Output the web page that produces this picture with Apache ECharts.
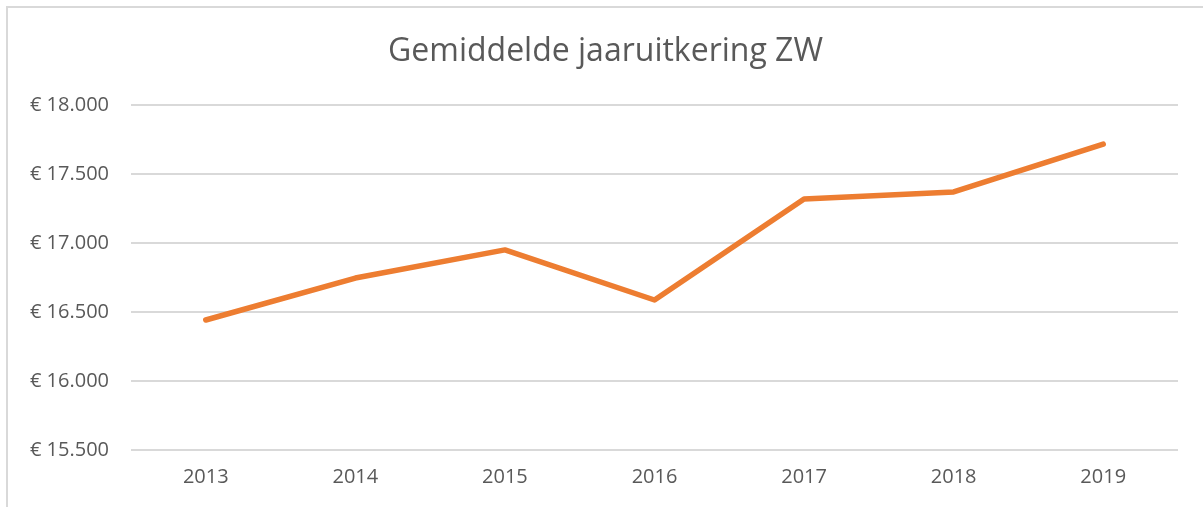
<!DOCTYPE html>
<html>
<head>
<meta charset="utf-8">
<script src="https://cdn.jsdelivr.net/npm/echarts@6/dist/echarts.min.js"></script>
<style>
  html, body { margin: 0; padding: 0; background: #fff; }
  #chart { position: absolute; left: 6px; top: 6px; width: 1197px; height: 501px;
           border-left: 2px solid #d9d9d9; border-top: 2px solid #d9d9d9; box-sizing: border-box; }
</style>
</head>
<body>
<div id="chart"></div>
<script>
var years = ['2013', '2014', '2015', '2016', '2017', '2018', '2019'];
var uitkering = [16442, 16746, 16950, 16587, 17319, 17370, 17717];
var yTicks = [15500, 16000, 16500, 17000, 17500, 18000];

var chart = echarts.init(document.getElementById('chart'));

function euro(v){
    return '€ ' + String(v).replace(/\B(?=(\d{3})+(?!\d))/g, '.');
}

var option = {
    animation: false,
    textStyle: { fontFamily: 'Open Sans' },
    title: {
        text: 'Gemiddelde jaaruitkering ZW',
        left: 'center',
        top: 23,
        textStyle: { fontSize: 32, fontWeight: 'normal', color: '#595959', fontFamily: 'Open Sans' }
    },
    grid: { left: 123, right: 25, top: 97, bottom: 57, containLabel: false },
    xAxis: {
        type: 'category',
        data: years,
        boundaryGap: true,
        axisLine: { show: false },
        axisTick: { show: false },
        axisLabel: { color: '#595959', fontSize: 20, margin: 17 }
    },
    yAxis: {
        type: 'value',
        min: yTicks[0],
        max: yTicks[yTicks.length - 1],
        interval: 500,
        axisLine: { show: false },
        axisTick: { show: false },
        axisLabel: { color: '#595959', fontSize: 20, margin: 22, formatter: euro },
        splitLine: { lineStyle: { color: '#d9d9d9', width: 2 } }
    },
    series: [{
        type: 'line',
        data: uitkering,
        symbol: 'none',
        lineStyle: { color: '#ED7D31', width: 5.5, cap: 'round', join: 'round' }
    }]
};

chart.setOption(option);
</script>
</body>
</html>
